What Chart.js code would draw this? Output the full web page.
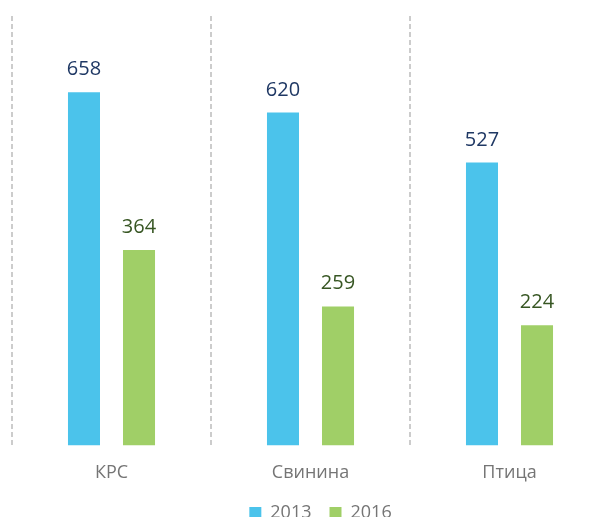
<!DOCTYPE html>
<html lang="ru">
<head>
<meta charset="utf-8">
<title>КРС / Свинина / Птица</title>
<script src="https://cdn.jsdelivr.net/npm/chart.js@4/dist/chart.umd.min.js"></script>
<style>
  html, body { margin: 0; padding: 0; background: #fff; overflow: hidden; }
  .wrap { width: 606px; height: 517px; overflow: hidden; position: relative; }
  #chart { display: block; }
</style>
</head>
<body>
<div class="wrap"><canvas id="chart" width="660" height="547"></canvas></div>
<script>
// ── Data ──────────────────────────────────────────────────────────────────────
const categories = ['КРС', 'Свинина', 'Птица'];
const seriesNames = ['2013', '2016'];
const values2013 = [658, 620, 527];
const values2016 = [364, 259, 224];

(function () {
  'use strict';

  const FONT = "'Open Sans', 'Noto Sans', sans-serif";
  const barColors   = ['#4BC3EB', '#A0CF67'];
  const labelColors = ['#1F3864', '#375623'];

  // ── Value labels above bars ─────────────────────────────────────────────────
  const valueLabels = {
    id: 'valueLabels',
    afterDatasetsDraw(chart) {
      const ctx = chart.ctx;
      ctx.save();
      ctx.font = '20px ' + FONT;
      ctx.textAlign = 'center';
      ctx.textBaseline = 'alphabetic';
      chart.data.datasets.forEach((ds, i) => {
        ctx.fillStyle = labelColors[i];
        chart.getDatasetMeta(i).data.forEach((bar, j) => {
          ctx.fillText(String(ds.data[j]), bar.x, bar.y - 17);
        });
      });
      ctx.restore();
    }
  };

  // ── Legend: a bit right of the plot centre, tucked up under the labels ─────
  const legendShift = {
    id: 'legendShift',
    afterLayout(chart) {
      const lg = chart.legend;
      if (!lg) return;
      lg.left += 10; lg.right += 10;
      lg.top -= 15;  lg.bottom -= 15;
      lg.adjustHitBoxes && lg.adjustHitBoxes();
    }
  };

  new Chart(document.getElementById('chart'), {
    type: 'bar',
    data: {
      labels: categories,
      datasets: [
        { label: seriesNames[0], data: values2013, backgroundColor: barColors[0] },
        { label: seriesNames[1], data: values2016, backgroundColor: barColors[1] }
      ]
    },
    options: {
      responsive: false,
      animation: false,
      devicePixelRatio: 1,
      categoryPercentage: 0.553,
      barPercentage: 0.582,
      layout: { padding: { left: 12, right: 51, top: 16, bottom: 0 } },
      plugins: {
        tooltip: { enabled: false },
        legend: {
          position: 'bottom',
          labels: {
            color: '#757575',
            font: { family: FONT, size: 18 },
            boxWidth: 12,
            boxHeight: 12,
            padding: 18
          }
        }
      },
      scales: {
        x: {
          grid: { display: true, offset: true, drawTicks: false, color: '#CCCCCC', lineWidth: 2 },
          border: { display: false, dash: [5, 3] },
          ticks: { color: '#757575', font: { family: FONT, size: 18 }, padding: 17 }
        },
        y: { display: false, min: 0, max: 800 }
      }
    },
    plugins: [valueLabels, legendShift]
  });
})();
</script>
</body>
</html>
